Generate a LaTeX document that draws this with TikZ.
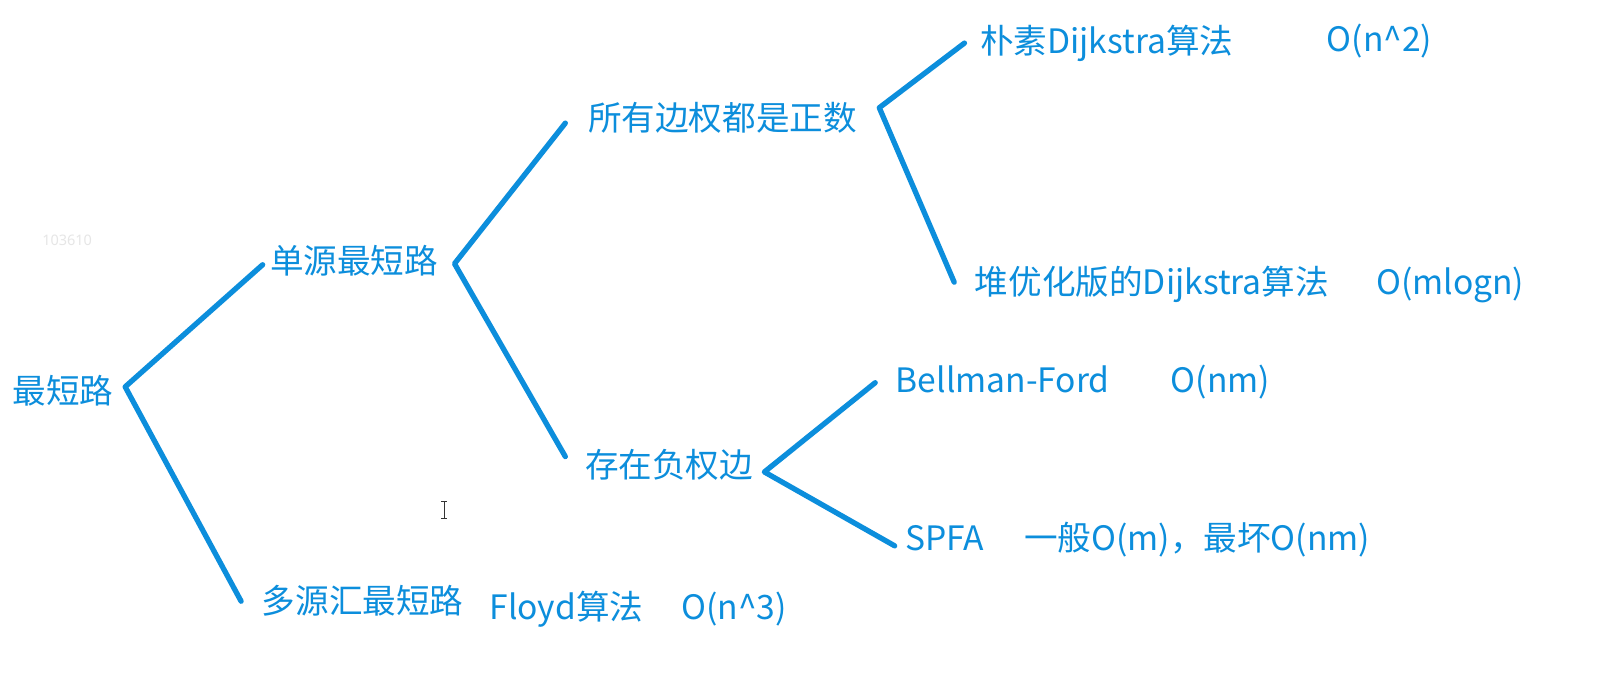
\documentclass[tikz,border=0pt]{standalone}
\usepackage{fontspec}
\setmainfont{Noto Sans CJK SC}
\newfontfamily\latinsans{Noto Sans}
\definecolor{treeblue}{RGB}{12,142,220}
\definecolor{faintgrey}{RGB}{230,230,230}
\begin{document}
\begin{tikzpicture}[x=1.026pt,y=-1.026pt,
  lbl/.style={anchor=base west,inner sep=0pt,text=treeblue,font=\fontsize{33.6}{36}\selectfont},
  branch/.style={draw=treeblue,line width=5.3pt,line cap=round,line join=round}]
\useasboundingbox[fill=white] (0,0) rectangle (1565.3,672.5);
% labels
\node[lbl] (root)  at (12,393)  {最短路};
\node[lbl] (single) at (263,267) {单源最短路};
\node[lbl] (multi) at (255,598)  {多源汇最短路};
\node[lbl] (floyd) at (477,604)  {Floyd算法};
\node[lbl] (floydO) at (664,604) {O(n\^{}3)};
\node[lbl] (pos)   at (573,127)  {所有边权都是正数};
\node[lbl] (naive) at (955,52)   {朴素Dijkstra算法};
\node[lbl] (naiveO) at (1293,50) {O(n\^{}2)};
\node[lbl] (heap)  at (950,287)  {堆优化版的Dijkstra算法};
\node[lbl] (heapO) at (1341,287) {O(mlogn)};
\node[lbl] (neg)   at (570,465)  {存在负权边};
\node[lbl] (bf)    at (873,383)  {Bellman-Ford};
\node[lbl] (bfO)   at (1141,383) {O(nm)};
\node[lbl] (spfa)  at (882,537)  {SPFA};
\node[lbl] (spfaO) at (998,537)  {一般O(m)，最坏O(nm)};
\node[anchor=base west,inner sep=0pt,text=faintgrey,font=\latinsans\fontsize{14.5}{16}\selectfont] (wm) at (41,239) {103610};
% junction points
\coordinate (jA) at (122,377);
\coordinate (jA1) at (256,258);
\coordinate (jA2) at (235,586);
\coordinate (jB) at (443,257);
\coordinate (jB1) at (551,120);
\coordinate (jB2) at (551,445);
\coordinate (jC) at (857,105);
\coordinate (jC1) at (940,42);
\coordinate (jC2) at (930,275);
\coordinate (jD) at (745,460);
\coordinate (jD1) at (853,373);
\coordinate (jD2) at (872,532);
% connectors
\draw[branch] (jA1) -- (jA) -- (jA2);
\draw[branch] (jB1) -- (jB) -- (jB2);
\draw[branch] (jC1) -- (jC) -- (jC2);
\draw[branch] (jD1) -- (jD) -- (jD2);
% text cursor
\coordinate (cur) at (433,497);
\draw[black!80,line width=1pt] ([yshift=-8]cur) -- ([yshift=8]cur)
  ([shift={(-3,-8)}]cur) -- ([shift={(3,-8)}]cur)
  ([shift={(-3,8)}]cur) -- ([shift={(3,8)}]cur);
\end{tikzpicture}
\end{document}
